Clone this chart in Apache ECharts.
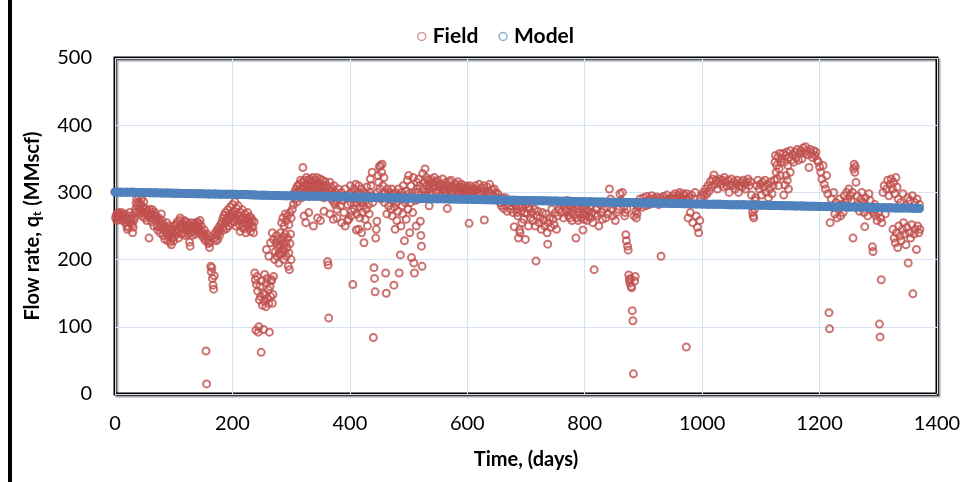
<!DOCTYPE html>
<html><head><meta charset="utf-8">
<script src="https://cdn.jsdelivr.net/npm/echarts@6/dist/echarts.min.js"></script>
<style>html,body{margin:0;padding:0;background:#fff}#c{width:969px;height:482px}</style>
</head><body><div id="c"></div>
<script>
const xTickValues = [0, 200, 400, 600, 800, 1000, 1200, 1400];
const yTickValues = [0, 100, 200, 300, 400, 500];
const seriesNames = ['Field', 'Model'];

// Field: [day, flow rate MMscf]
const fieldPoints = [
[1,262],[2,266],[3,258],[4,265],[5,270],[6,263],[7,260],[8,268],[9,266],[10,262],[11,270],[12,264],[13,258],[14,266],[15,261],[17,268],[18,255],[19,262],[20,250],[21,245],[22,258],[23,248],[24,265],[25,270],[26,262],[27,255],[28,260],[29,252],[30,240],[31,248],[32,258],[33,262],[34,270],
[35,275],[36,284],[37,290],[38,280],[39,270],[40,295],[41,285],[42,276],[43,268],[44,282],[45,290],[46,272],[47,264],[48,278],[49,286],[50,270],[51,262],[52,275],[53,268],[54,258],[55,272],[56,266],[58,232],[59,275],[60,262],[61,270],[62,268],[63,256],[64,274],[65,262],[66,250],[67,266],[68,270],[69,258],[70,264],
[72,250],[73,244],[74,258],[75,262],[76,248],[77,240],[78,254],[79,268],[80,258],[81,246],[82,236],[83,252],[84,244],[85,230],[86,248],[87,240],[88,255],[89,238],[90,228],[91,246],[92,234],[93,250],[94,226],[95,240],[96,222],[97,245],[98,232],[99,238],[100,228],[101,250],[102,242],[103,236],[104,252],[105,244],[106,256],[107,240],[108,232],[109,248],[110,258],[111,262],[112,248],[113,238],[114,252],
[115,246],[116,254],[117,240],[118,258],[119,236],[120,250],[121,244],[122,256],[123,248],[124,238],[125,252],[126,244],[127,226],[128,220],[129,240],[130,255],[131,248],[132,236],[133,250],[134,242],[135,254],[136,246],[137,238],[138,252],[139,244],[140,256],[141,250],[142,242],[143,254],[144,246],[145,258],[146,240],[147,250],[148,236],
[150,240],[151,232],[152,244],[153,236],[154,228],[155,64],[156,15],[157,238],[158,230],[159,224],[160,234],[161,218],[162,226],[163,190],[164,182],[165,188],[166,172],[167,162],[168,156],[169,176],[170,232],[171,240],[172,228],[173,236],[174,244],[175,230],[176,240],[177,248],[178,236],[179,244],[180,252],
[182,256],[183,248],[184,262],[185,244],[186,266],[187,254],[188,270],[189,258],[190,246],[191,262],[192,274],[193,258],[194,250],[195,266],[196,278],[197,262],[198,254],[199,270],[200,282],[201,266],[202,256],[203,272],[204,286],[205,262],[206,250],[207,276],[208,268],[209,258],[210,280],[211,264],[212,252],[213,242],[214,270],[215,260],[216,248],[217,274],[218,262],[219,254],[220,246],[221,268],[222,258],[223,240],[224,262],[225,252],[226,270],[227,258],[228,246],[229,264],[230,254],[231,242],[232,262],[233,250],[234,258],[235,248],[236,240],[237,256],
[238,180],[239,170],[240,95],[241,163],[242,175],[243,153],[244,92],[245,100],[246,140],[247,160],[248,145],[249,62],[250,168],[251,132],[252,150],[253,96],[254,138],[255,178],[256,148],[257,130],[258,165],[259,172],[260,142],[261,155],[262,135],[263,92],[264,160],[265,145],[266,168],[267,170],[268,135],[269,148],[270,175],
[258,215],[262,205],[265,225],[268,240],[270,230],
[272,200],[273,212],[274,225],[275,236],[276,205],[277,218],[278,230],[279,195],[280,210],[281,222],[282,240],[283,208],[284,228],[285,215],[286,234],[287,200],[288,222],[289,212],[290,238],[291,226],[292,205],[293,218],[294,232],[295,190],[296,210],[297,185],[298,224],[299,238],[300,200],
[284,255],[286,262],[288,250],[290,268],[292,258],[294,265],[296,252],[298,270],[300,262],[302,275],[304,282],
[305,295],[306,300],[307,290],[308,305],[309,298],[310,286],[311,310],[312,302],[313,295],[314,312],[315,300],[316,318],[317,305],[318,292],[319,315],[320,337],[321,308],[322,298],[323,318],[324,310],[325,300],[326,322],[327,312],[328,305],[329,296],[330,318],[331,310],[332,320],[333,302],[334,295],[335,315],[336,308],[337,322],[338,300],[339,312],[340,305],[341,318],[342,298],[343,310],[344,322],[345,304],[346,315],[347,296],[348,308],[349,320],[350,300],[351,312],[352,305],[353,318],[354,298],[355,310],[356,292],[357,304],[358,316],[359,300],[360,310],[361,295],[362,197],[363,192],[364,113],[365,302],[366,315],[367,296],[368,308],[369,290],[370,303],[371,298],[372,286],[373,310],[374,295],[375,282],[376,300],[377,288],[378,275],[379,295],[380,305],
[322,265],[325,255],[330,270],[338,250],[345,262],[350,258],[356,272],[366,268],[372,260],[378,262],
[382,295],[384,280],[386,300],[388,288],[390,270],[392,305],[394,292],[396,282],[398,260],[400,298],[401,310],[402,285],[403,272],[404,300],[405,163],[406,290],[407,305],[408,275],[409,295],[410,312],[411,285],[412,268],[413,300],[414,290],[415,310],[416,278],[417,262],[418,298],[419,285],[420,305],[421,270],[422,292],[423,280],[424,225],[425,300],[426,260],[427,288],[428,275],[429,308],[430,250],[431,295],[432,282],[433,268],[434,300],
[386,255],[392,250],[396,258],[402,265],[411,244],[415,245],[420,240],
[435,320],[436,310],[437,295],[438,330],[439,285],[440,84],[441,188],[442,172],[443,152],[444,232],[445,245],[446,257],[447,300],[448,325],[449,315],[450,338],[451,305],[452,340],[453,290],[454,330],[455,342],[456,310],[457,298],[458,322],[459,285],[460,300],[461,180],[462,150],[463,268],[464,305],
[465,295],[466,280],[467,300],[469,290],[470,275],[471,305],[472,265],[473,288],[474,298],[475,162],[476,278],[477,245],[478,300],[479,285],[480,258],[481,295],[482,272],[483,305],[484,180],[485,290],[486,207],[487,250],[488,300],[489,280],[490,268],[491,310],[492,295],[493,228],[494,285],[495,302],[496,260],[497,290],[498,318],[499,275],[500,325],[501,298],[502,240],[503,285],[504,310],[505,203],[506,295],[507,270],[508,322],[509,195],[510,180],[511,300],[512,288],[513,250],[514,315],[515,305],
[516,300],[517,320],[518,290],[519,310],[520,257],[521,236],[522,220],[523,190],[524,328],[525,305],[526,295],[527,315],[528,335],[529,300],[530,322],[531,310],[532,295],[533,318],[534,305],[535,280],[536,312],[537,300],[538,320],
[540,315],[542,305],[544,322],[546,310],[548,300],[550,318],[552,308],[554,296],[556,312],[558,320],[560,305],[562,300],[564,315],[566,276],[568,310],[570,302],[572,318],[574,306],[576,298],[578,312],[580,305],[582,300],[584,316],[586,308],[588,302],[590,312],[592,300],[594,306],[596,310],[598,298],[600,305],[602,300],[603,254],[604,310],[606,302],[608,296],[610,306],[612,300],[614,310],
[541,308],[545,316],[549,303],[553,312],[557,305],[561,310],[565,302],[569,316],[573,300],[577,308],[581,312],[585,300],[589,306],[593,302],[597,304],[601,308],[605,298],[609,304],[613,302],
[616,305],[618,300],[620,312],[622,298],[624,306],[626,300],[628,310],[629,259],[630,302],[632,296],[634,308],[636,300],[638,312],[640,298],[642,304],[644,295],[646,305],[648,300],[650,292],[652,298],
[654,290],[656,285],[658,280],[660,292],[662,276],[664,286],[666,280],[668,272],[670,288],[672,280],[674,275],[676,285],[678,270],[680,249],[682,282],[684,275],[686,265],[687,232],[688,280],[690,240],[692,272],[694,278],[696,260],[698,270],[700,282],[702,268],[704,250],[706,275],[708,262],
[665,292],[675,288],[685,270],[695,285],[705,278],[689,244],[693,255],[699,230],
[710,270],[712,258],[714,275],[716,250],[717,198],[718,265],[720,272],[722,255],[724,262],[726,245],[728,270],[730,258],[732,250],[734,268],[736,240],[737,223],[738,255],[740,262],[742,248],[744,275],[746,260],[748,252],[750,270],[752,245],[754,265],
[756,275],[758,282],[760,270],[762,285],[764,262],[766,278],[768,272],[770,288],[772,265],[774,280],[776,270],[778,258],[780,275],[782,268],[784,282],[785,232],[786,262],[788,276],[790,270],[792,285],[794,262],[796,275],[798,268],[800,280],[802,265],[804,258],[806,272],[808,278],[810,262],[812,270],[814,255],[816,185],[818,268],[820,275],
[771,275],[775,262],[781,284],[789,258],[795,285],[799,260],[803,275],[807,265],[811,280],[797,244],
[822,265],[824,250],[826,282],[828,270],[830,260],[832,275],[834,285],[836,262],[838,278],[840,268],[842,305],[844,290],[846,275],[848,265],[850,282],[852,258],[854,270],[856,285],[858,275],[860,298],[862,288],[864,300],[866,278],[868,265],
[869,270],[870,237],[871,228],[872,275],[873,220],[874,214],[875,177],[876,170],[877,165],[878,172],[879,160],[880,158],[881,124],[882,109],[883,30],[884,265],[885,168],[886,175],[887,272],[888,262],[889,268],[890,278],
[892,280],[894,290],[896,285],[898,278],[900,292],[902,286],[904,280],[906,294],[908,288],[910,282],[912,290],[914,295],[916,284],[918,290],[920,286],[922,293],[924,288],[926,282],[928,292],[930,205],[932,288],[934,294],[936,285],[938,290],[940,296],[942,288],[944,284],[946,292],[948,290],
[950,295],[952,290],[954,298],[956,292],[958,288],[960,296],[962,300],[964,292],[966,288],[968,298],[970,295],[972,290],[973,70],[974,298],[976,262],[978,292],[980,270],[982,296],[984,255],[986,290],[988,300],[990,265],[992,248],[994,240],[996,258],[998,292],[1000,296],
[1002,300],[1004,295],[1006,305],[1008,298],[1010,310],[1012,302],[1014,316],[1016,308],[1018,320],[1020,326],[1022,312],[1024,318],[1026,305],[1028,315],
[1030,320],[1032,312],[1034,318],[1036,308],[1038,322],[1040,315],[1042,310],[1044,318],[1046,300],[1048,312],[1050,320],[1052,310],[1054,316],[1056,305],[1058,312],[1060,318],[1062,300],[1064,310],[1066,315],[1068,308],[1070,318],[1072,312],[1074,305],[1076,315],[1078,320],[1080,310],[1082,316],
[1084,296],[1085,280],[1086,270],[1087,265],[1088,262],[1089,275],[1090,288],[1091,292],
[1093,310],[1095,318],[1097,305],[1099,312],[1101,296],[1103,315],[1105,308],[1107,318],[1109,300],[1111,312],[1113,292],[1115,305],[1117,316],[1119,298],[1121,310],[1123,318],
[1124,345],[1125,355],[1126,330],[1127,340],[1128,320],[1129,352],[1130,310],[1131,335],[1132,358],[1133,325],[1134,345],
[1136,350],[1138,358],[1140,345],[1142,355],[1144,360],[1146,340],[1148,352],[1150,362],[1152,348],[1154,356],[1156,345],[1158,360],[1160,352],[1162,364],[1164,348],[1166,358],[1168,362],[1170,350],[1172,366],[1174,358],[1176,368],[1178,362],[1180,356],[1182,337],[1184,364],[1186,358],[1188,352],[1190,362],[1192,355],[1194,360],[1196,348],
[1139,296],[1141,311],[1143,325],[1145,318],[1150,330],[1147,305],
[1198,345],[1200,338],[1202,330],[1204,320],[1206,340],[1208,312],[1210,305],[1212,325],[1214,298],[1216,121],[1217,97],[1218,255],[1220,290],[1222,278],[1224,300],[1226,268],[1228,285],[1230,262],
[1232,275],[1234,290],[1236,265],[1238,282],[1240,270],[1242,295],[1244,285],[1246,300],[1248,290],[1250,305],[1252,295],[1254,288],[1256,300],[1257,232],[1258,335],[1259,342],[1260,330],[1261,338],[1262,315],
[1264,295],[1266,282],[1268,272],[1270,290],[1272,300],[1274,285],[1276,270],[1277,249],[1278,292],[1280,280],[1282,265],[1284,298],[1286,288],[1288,275],[1290,219],[1291,212],[1292,270],[1294,282],
[1296,265],[1298,258],[1300,270],[1302,104],[1303,85],[1305,170],[1304,262],[1306,255],[1308,300],[1310,310],[1312,268],[1314,305],[1316,318],[1318,295],[1320,312],[1322,320],[1324,305],[1326,315],[1328,298],[1330,322],[1332,308],
[1325,245],[1327,232],[1329,225],[1331,240],[1333,218],[1335,250],[1337,235],[1339,228],[1341,245],[1343,255],[1345,238],[1347,222],[1349,248],[1351,195],[1353,240],[1355,232],[1357,252],[1359,149],[1361,238],[1363,245],[1365,215],[1367,250],[1369,240],[1371,245],
[1334,290],[1338,285],[1342,298],[1346,280],[1350,292],[1354,288],[1358,295],[1362,285],[1366,290],[1370,282]
];

// Model: [day, flow rate MMscf]
const modelPoints = [
[0,300.6],[10,300.4],[20,300.2],[30,300.1],[40,299.9],[50,299.7],[60,299.5],[70,299.3],[80,299.2],[90,299.0],
[100,298.8],[110,298.6],[120,298.5],[130,298.3],[140,298.1],[150,297.9],[160,297.8],[170,297.6],[180,297.4],[190,297.2],
[200,297.1],[210,296.9],[220,296.7],[230,296.5],[240,296.0],[250,295.8],[260,295.6],[270,295.5],[280,295.3],[290,295.1],
[300,294.9],[310,294.8],[320,294.6],[330,294.4],[340,294.2],[350,294.1],[360,293.9],[370,293.7],[380,293.5],[390,293.4],
[400,293.2],[410,293.0],[420,292.8],[430,292.7],[440,292.5],[450,292.3],[460,292.1],[470,292.0],[480,291.8],[490,291.6],
[500,291.4],[510,291.3],[520,291.1],[530,290.9],[540,290.7],[550,290.6],[560,290.4],[570,290.2],[580,290.0],[590,289.9],
[600,289.7],[610,289.5],[620,289.3],[630,289.2],[640,289.0],[650,288.8],[660,288.6],[670,288.5],[680,288.3],[690,288.1],
[700,287.9],[710,287.8],[720,287.6],[730,287.4],[740,287.2],[750,287.1],[760,286.9],[770,286.7],[780,286.5],[790,286.4],
[800,286.2],[810,286.0],[820,285.8],[830,285.7],[840,285.5],[850,285.3],[860,285.1],[870,285.0],[880,284.8],[890,284.6],
[900,284.4],[910,284.3],[920,284.1],[930,283.9],[940,283.7],[950,283.6],[960,283.4],[970,283.2],[980,283.0],[990,282.9],
[1000,282.7],[1010,282.5],[1020,282.3],[1030,282.2],[1040,282.0],[1050,281.8],[1060,281.6],[1070,281.5],[1080,281.3],[1090,281.1],
[1100,280.9],[1110,280.8],[1120,280.6],[1130,280.4],[1140,280.2],[1150,280.1],[1160,279.9],[1170,279.7],[1180,279.5],[1190,279.4],
[1200,279.2],[1210,279.0],[1220,278.8],[1230,278.7],[1240,278.5],[1250,278.3],[1260,278.1],[1270,278.0],[1280,277.8],[1290,277.6],
[1300,277.4],[1310,277.3],[1320,277.1],[1330,276.9],[1340,276.7],[1350,276.6],[1360,276.4],[1370,276.2]
];

const FONT = 'Lato, "Open Sans", sans-serif';
const chart = echarts.init(document.getElementById('c'), null, {renderer: 'canvas'});
chart.setOption({
  animation: false,
  backgroundColor: '#fff',
  textStyle: {fontFamily: FONT},
  legend: {
    left: 412, top: 21, itemGap: 20, itemWidth: 8, itemHeight: 8,
    icon: 'circle',
    textStyle: {fontFamily: FONT, fontSize: 21, fontWeight: 'bold', color: '#000', padding: [0, 0, 0, 2]},
    data: [
      {name: seriesNames[0], itemStyle: {color: '#fff', borderColor: '#d07a78', borderWidth: 1.5}},
      {name: seriesNames[1], itemStyle: {color: '#fff', borderColor: '#8eadd6', borderWidth: 1.5}, lineStyle: {width: 0, opacity: 0}}
    ]
  },
  grid: {
    left: 115, right: 32, top: 58, bottom: 88,
    show: true, borderColor: '#000', borderWidth: 3, backgroundColor: '#fff',
    shadowColor: 'rgba(0,0,0,0.35)', shadowOffsetX: 2, shadowOffsetY: 2, shadowBlur: 1
  },
  xAxis: {
    type: 'value', min: xTickValues[0], max: xTickValues[xTickValues.length - 1], interval: 200,
    name: 'Time, (days)', nameLocation: 'middle', nameGap: 56,
    nameTextStyle: {fontFamily: FONT, fontSize: 20, fontWeight: 'bold', color: '#000'},
    axisLine: {show: false}, axisTick: {show: false},
    axisLabel: {fontFamily: FONT, fontSize: 20, color: '#000', margin: 20, formatter: v => String(v)},
    splitLine: {show: true, lineStyle: {color: '#d5e3f4', width: 1}}
  },
  yAxis: {
    type: 'value', min: yTickValues[0], max: yTickValues[yTickValues.length - 1], interval: 100,
    name: '{a|Flow rate, q}{s|t}{a| (MMscf)}', nameLocation: 'middle', nameGap: 72, nameRotate: 90,
    nameTextStyle: {
      rich: {
        a: {fontFamily: FONT, fontSize: 20, fontWeight: 'bold', color: '#000'},
        s: {fontFamily: FONT, fontSize: 12, fontWeight: 'bold', color: '#000', verticalAlign: 'bottom', padding: [8, 1, 0, 0]}
      }
    },
    axisLine: {show: false}, axisTick: {show: false},
    axisLabel: {fontFamily: FONT, fontSize: 20, color: '#000', margin: 23, formatter: v => String(v)},
    splitLine: {show: true, lineStyle: {color: '#d5e3f4', width: 1}}
  },
  graphic: [
    {type: 'rect', left: 8, top: 0, shape: {width: 4, height: 482}, style: {fill: '#000'}, z: 100}
  ],
  series: [
    {
      name: seriesNames[0], type: 'scatter', data: fieldPoints, symbol: 'circle', symbolSize: 7,
      itemStyle: {color: 'rgba(255,255,255,0)', borderColor: '#c0504d', borderWidth: 2},
      z: 2
    },
    {
      name: seriesNames[1], type: 'line', data: modelPoints, symbol: 'circle', symbolSize: 9,
      showSymbol: true, showAllSymbol: true,
      lineStyle: {color: '#4f81bd', width: 9, cap: 'round'},
      itemStyle: {color: '#4f81bd', borderColor: '#4f81bd', borderWidth: 0},
      z: 3
    }
  ]
});
</script>
</body></html>
